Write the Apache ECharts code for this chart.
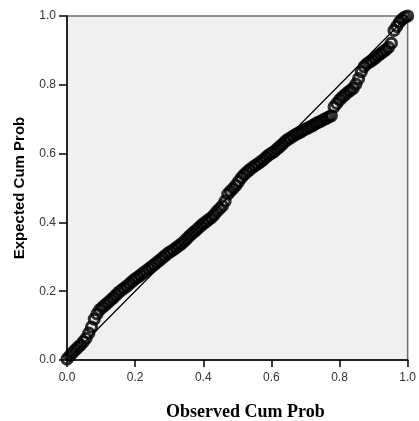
<!DOCTYPE html>
<html>
<head>
<meta charset="utf-8">
<script src="https://cdn.jsdelivr.net/npm/echarts@6/dist/echarts.min.js"></script>
<style>
html,body{margin:0;padding:0;background:#fff;}
#c{width:419px;height:421px;}
</style>
</head>
<body>
<div id="c"></div>
<script>
var xAxisTicks = ['0.0', '0.2', '0.4', '0.6', '0.8', '1.0'];
var yAxisTicks = ['0.0', '0.2', '0.4', '0.6', '0.8', '1.0'];
var xName = 'Observed Cum Prob';
var yName = 'Expected Cum Prob';

var observed = [0, 0.008, 0.016, 0.024, 0.032, 0.04, 0.048, 0.056, 0.064, 0.072,
  0.08, 0.088, 0.096, 0.104, 0.112, 0.12, 0.128, 0.136, 0.144, 0.152,
  0.16, 0.168, 0.176, 0.184, 0.192, 0.2, 0.208, 0.216, 0.224, 0.232,
  0.24, 0.248, 0.256, 0.264, 0.272, 0.28, 0.288, 0.296, 0.304, 0.312,
  0.32, 0.328, 0.336, 0.344, 0.352, 0.36, 0.368, 0.376, 0.384, 0.392,
  0.4, 0.408, 0.416, 0.424, 0.432, 0.44, 0.448, 0.456, 0.464, 0.472,
  0.48, 0.488, 0.496, 0.504, 0.512, 0.52, 0.528, 0.536, 0.544, 0.552,
  0.56, 0.568, 0.576, 0.584, 0.592, 0.6, 0.608, 0.616, 0.624, 0.632,
  0.64, 0.648, 0.656, 0.664, 0.672, 0.68, 0.688, 0.696, 0.704, 0.712,
  0.72, 0.728, 0.736, 0.744, 0.752, 0.76, 0.768, 0.776, 0.784, 0.792,
  0.8, 0.808, 0.816, 0.824, 0.832, 0.84, 0.848, 0.856, 0.864, 0.872,
  0.88, 0.888, 0.896, 0.904, 0.912, 0.92, 0.928, 0.936, 0.944, 0.952,
  0.96, 0.968, 0.976, 0.984, 0.992, 1.0];

var expected = [0.003, 0.012, 0.021, 0.029, 0.037, 0.044, 0.053, 0.063, 0.078, 0.096,
  0.119, 0.134, 0.146, 0.153, 0.160, 0.167, 0.174, 0.181, 0.189, 0.197,
  0.203, 0.209, 0.215, 0.222, 0.229, 0.236, 0.241, 0.247, 0.253, 0.259,
  0.265, 0.271, 0.277, 0.284, 0.290, 0.297, 0.303, 0.310, 0.315, 0.320,
  0.326, 0.332, 0.338, 0.345, 0.353, 0.361, 0.368, 0.375, 0.382, 0.389,
  0.396, 0.402, 0.408, 0.414, 0.422, 0.432, 0.440, 0.448, 0.462, 0.482,
  0.491, 0.499, 0.508, 0.519, 0.530, 0.539, 0.546, 0.553, 0.559, 0.565,
  0.570, 0.576, 0.582, 0.589, 0.596, 0.601, 0.606, 0.613, 0.620, 0.627,
  0.635, 0.641, 0.646, 0.651, 0.656, 0.660, 0.664, 0.669, 0.673, 0.677,
  0.681, 0.686, 0.690, 0.694, 0.698, 0.702, 0.706, 0.710, 0.736, 0.746,
  0.756, 0.764, 0.771, 0.778, 0.784, 0.790, 0.802, 0.818, 0.838, 0.853,
  0.861, 0.866, 0.871, 0.877, 0.884, 0.890, 0.896, 0.902, 0.909, 0.921,
  0.958, 0.970, 0.982, 0.991, 0.997, 1.0];

var refLineX = [0, 1];
var refLineY = [0, 1];

var points = observed.map(function (v, i) { return [v, expected[i]]; });
var refLine = refLineX.map(function (v, i) { return [v, refLineY[i]]; });

var chart = echarts.init(document.getElementById('c'), null, {renderer: 'canvas'});
var labelStyle = {fontFamily: 'Liberation Sans, Arial, sans-serif', fontSize: 12, color: '#333'};

chart.setOption({
  animation: false,
  grid: {left: 67, right: 7, top: 16, bottom: 61, show: true,
    backgroundColor: '#f0f0f0', borderColor: '#6e6e6e', borderWidth: 1.5},
  xAxis: {
    type: 'value', min: 0, max: 1, interval: 0.2,
    axisLine: {show: true, onZero: false, lineStyle: {color: '#000', width: 1.5}},
    axisTick: {show: true, inside: false, length: 7, lineStyle: {color: '#000', width: 1.5}},
    splitLine: {show: false},
    axisLabel: Object.assign({margin: 12, formatter: function (v) { return xAxisTicks[Math.round(v * 5)]; }}, labelStyle)
  },
  yAxis: {
    type: 'value', min: 0, max: 1, interval: 0.2,
    axisLine: {show: true, onZero: false, lineStyle: {color: '#000', width: 1.5}},
    axisTick: {show: true, inside: false, length: 8, lineStyle: {color: '#000', width: 1.5}},
    splitLine: {show: false},
    axisLabel: Object.assign({margin: 11, formatter: function (v) { return yAxisTicks[Math.round(v * 5)]; }}, labelStyle)
  },
  graphic: [
    {type: 'text', left: 166, top: 403, style: {text: xName, font: 'bold 18px "Liberation Serif", "Times New Roman", serif', fill: '#000'}},
    {type: 'text', x: 20, y: 188, rotation: Math.PI / 2, style: {text: yName, font: 'bold 15px "Liberation Sans", Arial, sans-serif', fill: '#000', align: 'center', verticalAlign: 'middle'}}
  ],
  series: [
    {type: 'line', data: refLine, symbol: 'none', lineStyle: {color: '#000', width: 1.2}, z: 2},
    {type: 'scatter', data: points, clip: false, symbol: 'circle', symbolSize: 10,
      itemStyle: {color: 'rgba(0,0,0,0)', borderColor: '#000', borderWidth: 3.2}, z: 3}
  ]
});
</script>
</body>
</html>
